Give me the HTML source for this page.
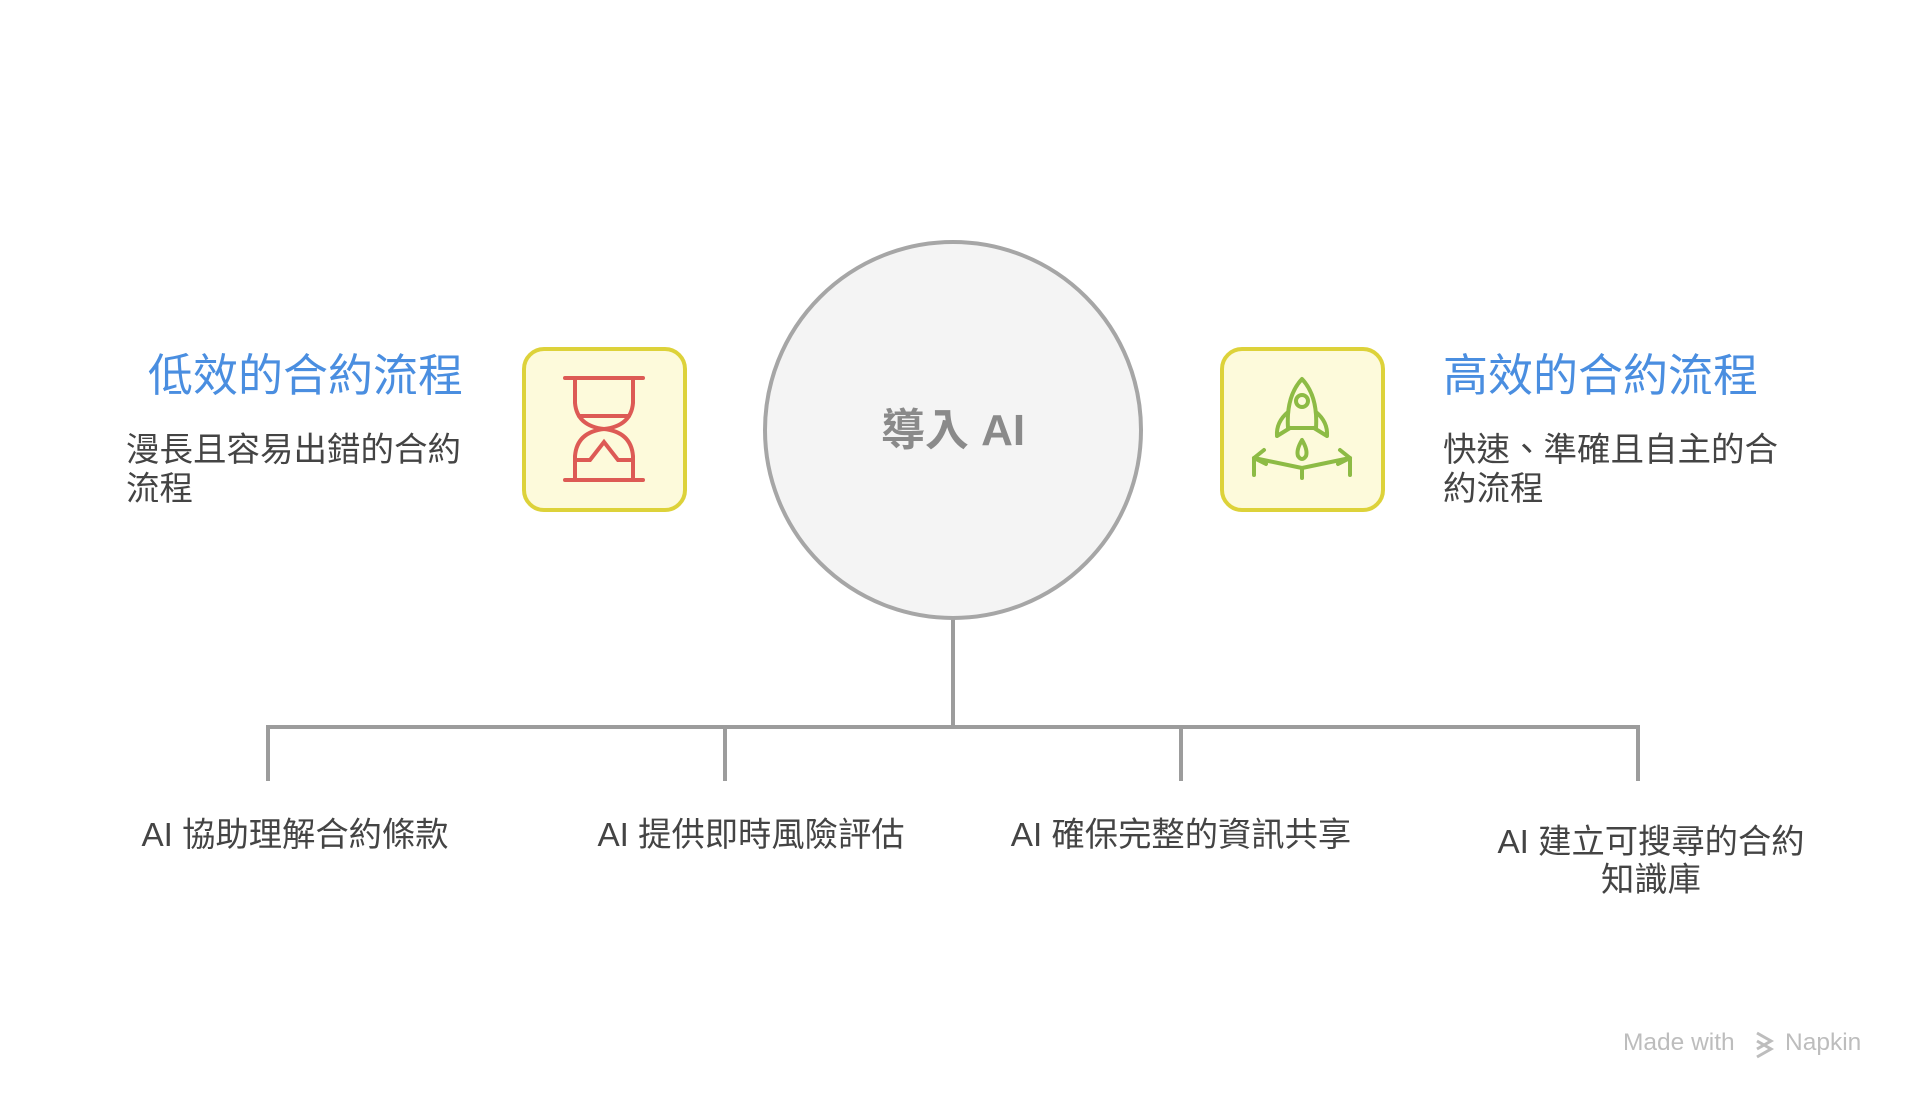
<!DOCTYPE html>
<html><head><meta charset="utf-8"><style>
body{margin:0;background:#fff;}
svg{display:block}
text{font-family:"Liberation Sans","Noto Sans CJK TC",sans-serif;}
</style></head><body>
<svg width="1920" height="1102" viewBox="0 0 1920 1102">
<g stroke="#9c9c9c" stroke-width="4" fill="none">
<line x1="953" y1="618" x2="953" y2="727"/>
<line x1="266" y1="727" x2="1640" y2="727"/>
<line x1="268" y1="727" x2="268" y2="781"/>
<line x1="725" y1="727" x2="725" y2="781"/>
<line x1="1181" y1="727" x2="1181" y2="781"/>
<line x1="1638" y1="727" x2="1638" y2="781"/>
</g>
<circle cx="953" cy="430" r="188" fill="#f4f4f4" stroke="#a6a6a6" stroke-width="4"/>
<text x="953" y="445" text-anchor="middle" font-size="44" font-weight="bold" fill="#8a8a8a">導入 AI</text>
<rect x="524" y="349" width="161" height="161" rx="20" fill="#fdfadb" stroke="#ddd23a" stroke-width="4"/>
<rect x="1222" y="349" width="161" height="161" rx="20" fill="#fdfadb" stroke="#ddd23a" stroke-width="4"/>
<g stroke="#dd5a55" stroke-width="4" fill="none" stroke-linecap="round">
<line x1="565" y1="378" x2="643" y2="378"/>
<line x1="565" y1="480" x2="643" y2="480"/>
<path d="M575 378 V403 Q577 426 604 429 Q631 426 633 403 V378"/>
<path d="M575 480 V456 Q577 432 604 429 Q631 432 633 456 V480"/>
<line x1="579" y1="416" x2="629" y2="416"/>
<path d="M577 460 H590 L604 442 L618 460 H631"/>
</g>
<g stroke="#8dbb45" stroke-width="4" fill="none" stroke-linecap="round" stroke-linejoin="round">
<path d="M1302 379 Q1286 396 1288 428 L1316 428 Q1318 396 1302 379 Z"/>
<circle cx="1302" cy="401" r="6"/>
<path d="M1288 412 Q1276 422 1277 436 L1290 428"/>
<path d="M1316 412 Q1328 422 1327 436 L1314 428"/>
<path d="M1302 440 Q1296 450 1298 456 Q1302 462 1306 456 Q1308 450 1302 440Z"/>
<path d="M1254 475 V458 L1302 468 L1350 458 V475"/>
<line x1="1302" y1="468" x2="1302" y2="478"/>
<path d="M1264 450 L1254 458 L1266 464"/>
<path d="M1340 450 L1350 458 L1338 464"/>
</g>
<g font-size="45" fill="#4a8ee0">
<text x="463" y="391" text-anchor="end">低效的合約流程</text>
<text x="1443" y="391">高效的合約流程</text>
</g>
<g font-size="33.5" fill="#444">
<text x="126" y="461">漫長且容易出錯的合約</text>
<text x="126" y="500">流程</text>
<text x="1443" y="461">快速、準確且自主的合</text>
<text x="1443" y="500">約流程</text>
</g>
<g font-size="33.3" fill="#444" text-anchor="middle">
<text x="295" y="846">AI 協助理解合約條款</text>
<text x="751" y="846">AI 提供即時風險評估</text>
<text x="1181" y="846">AI 確保完整的資訊共享</text>
<text x="1651" y="853">AI 建立可搜尋的合約</text>
<text x="1651" y="891">知識庫</text>
</g>
<text x="1623" y="1050" font-size="24.5" fill="#bdbdbd">Made with</text>
<path d="M1757 1033 l14 8 -14 8 M1757 1041 l14 8 -14 8" stroke="#bdbdbd" stroke-width="3" fill="none"/>
<text x="1785" y="1050" font-size="24.5" fill="#bdbdbd">Napkin</text>
</svg>
</body></html>
